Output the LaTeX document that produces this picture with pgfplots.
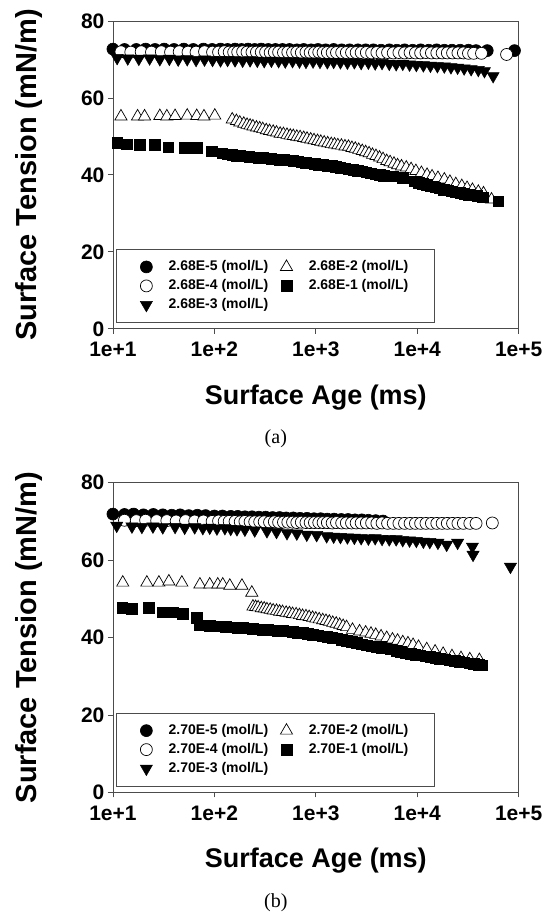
\documentclass[border=0pt]{standalone}
\usepackage{fontspec}
\setmainfont{Liberation Sans}
\newfontfamily\capfont{Liberation Serif}
\usepackage{pgfplots}
\pgfplotsset{compat=1.18}

\pgfplotsset{
  p5/.style={only marks, mark=*, mark size=6pt,
    mark options={draw=black, fill=black, line width=0.6pt}},
  p4/.style={only marks, mark=*, mark size=6pt,
    mark options={draw=black, fill=white, line width=0.7pt}},
  p3/.style={only marks, mark=triangle*, mark size=7pt,
    mark options={rotate=180, draw=black, fill=black, line width=0.5pt}},
  p2/.style={only marks, mark=triangle*, mark size=7pt,
    mark options={draw=black, fill=white, line width=0.7pt}},
  p1/.style={only marks, mark=square*, mark size=5.3pt,
    mark options={draw=black, fill=black, line width=0.5pt}},
}

\begin{document}
\begin{tikzpicture}
\path (0,0) rectangle (550pt,-915pt);

% ---------------- panel (a)
\begin{axis}[
  scale only axis, width=406pt, height=308pt,
  at={(113pt,-329pt)}, anchor=south west,
  xmode=log, xmin=10, xmax=100000, ymin=0, ymax=80,
  xtick={10,100,1000,10000,100000},
  xticklabels={1e+1,1e+2,1e+3,1e+4,1e+5},
  xminorticks=false,
  ytick={0,20,40,60,80},
  tick align=outside, tick pos=left,
  major tick length=5pt,
  axis line style={black!70, line width=0.8pt},
  tick style={black!70, line width=0.8pt},
  ticklabel style={font=\bfseries\fontsize{21}{21}\selectfont},
  xticklabel style={yshift=-5pt},
  yticklabel={\pgfmathprintnumber[assume math mode=true]{\tick}},
  clip=false,
  xlabel={Surface Age (ms)},
  ylabel={Surface Tension (mN/m)},
  xlabel style={font=\bfseries\fontsize{27}{27}\selectfont,
    at={(axis description cs:0.5,-0.2455)}, anchor=base},
  ylabel style={font=\bfseries\fontsize{29}{29}\selectfont,
    at={(axis description cs:-0.208,0.5)}, anchor=center},
  legend columns=2, legend cell align=left,
  legend image code/.code={\draw[#1] plot coordinates {(0pt,0pt)};},
  legend style={at={(0.0074,0.0195)}, anchor=south west,
    draw=black!70, line width=0.8pt,
    font=\bfseries\fontsize{14}{14}\selectfont,
    inner xsep=24pt, inner ysep=8pt,
    nodes={inner sep=2.25pt, text height=11pt, text depth=3.5pt},
    /tikz/every odd column/.append style={column sep=14pt},
    /tikz/every even column/.append style={column sep=10pt}},
]
\addplot[p5] coordinates {
  (10,72.7)(13,72.6)(17,72.6)(21,72.7)(26,72.6)(32,72.7)(40,72.6)(50,72.7)
  (62,72.6)(78,72.7)(95,72.6)(115,72.7)(135,72.6)(160,72.7)(185,72.6)(215,72.7)
  (250,72.6)(290,72.7)(340,72.6)(400,72.6)(470,72.6)(550,72.6)(650,72.5)(760,72.6)
  (900,72.5)(1050,72.6)(1250,72.5)(1500,72.6)(1800,72.5)(2150,72.5)(2600,72.5)
  (3100,72.5)(3700,72.5)(4400,72.4)(5300,72.5)(6300,72.4)(7500,72.5)(9000,72.4)
  (10800,72.5)(13000,72.4)(15500,72.5)(18500,72.4)(22000,72.4)(26500,72.4)
  (32000,72.4)(38000,72.3)(49000,72.3)(91000,72.3)
};
\addlegendentry{2.68E-5 (mol/L)}
\addplot[p2] coordinates {
  (12,55.2)(17.5,55.2)(20.5,55.2)(29,55.3)(34,55.2)(41,55.3)(54,55.4)(67,55.3)
  (79,55.2)(101,55.4)(150,54.4)(165,54.0)(178,53.6)(195,53.3)(210,53.0)(225,52.8)
  (240,52.6)(260,52.3)(280,52.1)(300,51.9)(325,51.6)(350,51.4)(380,51.2)(410,51.0)
  (445,50.7)(480,50.6)(520,50.4)(560,50.2)(600,50.1)(650,49.9)(700,49.8)(760,49.6)
  (820,49.4)(890,49.2)(960,49.0)(1040,48.8)(1120,48.6)(1210,48.4)(1310,48.2)
  (1420,48.0)(1530,47.9)(1650,47.7)(1790,47.6)(1940,47.4)(2100,47.3)(2270,47.0)
  (2450,46.8)(2650,46.5)(2870,46.2)(3100,45.9)(3350,45.6)(3620,45.2)(3920,44.9)
  (4250,44.5)(4600,44.1)(5000,43.6)(5400,43.3)(5900,42.9)(6400,42.5)(7000,42.2)
  (7800,41.9)(8700,41.5)(9700,41.0)(11000,40.5)(12500,40.0)(14000,39.6)
  (16000,39.2)(18500,38.8)(21000,38.2)(24000,37.6)(27500,37.1)(31000,36.6)
  (35000,36.1)(40000,35.6)(45000,35.2)(54000,33.6)
};
\addlegendentry{2.68E-2 (mol/L)}
\addplot[p4] coordinates {
  (12,72.0)(15,71.9)(19,72.0)(24,71.9)(30,72.0)(37,71.9)(45,72.0)(55,71.9)
  (66,71.9)(80,72.0)(96,71.9)(110,71.9)(125,72.0)(140,71.9)(155,71.9)(170,71.9)
  (190,72.0)(210,71.9)(235,71.9)(260,71.9)(290,71.9)(320,71.9)(355,71.8)(390,71.9)
  (430,71.9)(480,71.8)(530,71.9)(590,71.8)(650,71.9)(720,71.8)(800,71.9)(880,71.8)
  (970,71.8)(1070,71.9)(1180,71.8)(1300,71.8)(1450,71.8)(1600,71.8)(1800,71.8)
  (2000,71.8)(2250,71.8)(2500,71.8)(2800,71.8)(3150,71.8)(3550,71.7)(4000,71.8)
  (4500,71.7)(5100,71.8)(5800,71.7)(6600,71.8)(7500,71.7)(8500,71.8)(9600,71.7)
  (10800,71.7)(12200,71.8)(13800,71.7)(15600,71.7)(17600,71.7)(19800,71.7)
  (22300,71.7)(25200,71.7)(28500,71.7)(32000,71.6)(36000,71.6)(43000,71.6)
  (76000,71.3)
};
\addlegendentry{2.68E-4 (mol/L)}
\addplot[p1] coordinates {
  (11,48.4)(13.7,48.0)(18.5,47.9)(26,47.9)(35,47.2)(51,47.1)(67,47.1)(94,46.1)
  (120,45.6)(135,45.4)(150,45.2)(165,45.0)(180,44.9)(200,44.8)(220,44.7)(245,44.6)
  (270,44.5)(300,44.4)(330,44.3)(365,44.2)(400,44.1)(440,44.0)(490,43.9)(540,43.8)
  (600,43.6)(660,43.5)(730,43.3)(800,43.2)(880,43.0)(970,42.9)(1070,42.7)
  (1180,42.6)(1300,42.4)(1430,42.3)(1580,42.1)(1740,41.9)(1920,41.7)(2120,41.5)
  (2340,41.3)(2580,41.1)(2850,40.9)(3150,40.7)(3480,40.4)(3850,40.2)(4250,40.0)
  (4700,39.8)(5200,39.7)(5800,39.6)(7200,39.3)(9400,38.3)(10300,38.0)(11300,37.7)
  (12400,37.4)(13600,37.1)(15000,36.8)(16500,36.5)(18200,36.2)(20000,36.0)
  (22000,35.8)(24000,35.5)(26500,35.3)(29000,35.1)(32000,34.9)(36000,34.7)
  (39000,34.6)(44000,34.2)(63000,33.2)
};
\addlegendentry{2.68E-1 (mol/L)}
\addplot[p3] coordinates {
  (11,70.4)(14,70.3)(18,70.2)(23,70.3)(29,70.1)(36,70.2)(44,70.0)(54,70.1)
  (66,69.9)(80,70.0)(96,69.9)(115,69.8)(135,69.9)(160,69.8)(190,69.7)(225,69.8)
  (265,69.7)(310,69.6)(365,69.7)(430,69.6)(500,69.5)(590,69.6)(690,69.5)(800,69.4)
  (940,69.5)(1100,69.4)(1300,69.3)(1500,69.4)(1750,69.3)(2050,69.2)(2400,69.3)
  (2800,69.1)(3300,69.2)(3850,69.0)(4500,69.1)(5300,68.9)(6200,68.8)(7200,68.9)
  (8400,68.7)(9800,68.6)(11500,68.5)(13500,68.4)(15800,68.3)(18500,68.2)
  (21500,68.0)(25000,67.9)(29000,67.7)(34000,67.5)(40000,67.3)(46000,67.0)
  (56000,65.7)
};
\addlegendentry{2.68E-3 (mol/L)}
\end{axis}
\node[font=\capfont\fontsize{20}{20}\selectfont, anchor=base] at (276pt,-444pt) {(a)};

% ---------------- panel (b)
\begin{axis}[
  scale only axis, width=406pt, height=310pt,
  at={(113pt,-793pt)}, anchor=south west,
  xmode=log, xmin=10, xmax=100000, ymin=0, ymax=80,
  xtick={10,100,1000,10000,100000},
  xticklabels={1e+1,1e+2,1e+3,1e+4,1e+5},
  xminorticks=false,
  ytick={0,20,40,60,80},
  tick align=outside, tick pos=left,
  major tick length=5pt,
  axis line style={black!70, line width=0.8pt},
  tick style={black!70, line width=0.8pt},
  ticklabel style={font=\bfseries\fontsize{21}{21}\selectfont},
  xticklabel style={yshift=-5pt},
  yticklabel={\pgfmathprintnumber[assume math mode=true]{\tick}},
  clip=false,
  xlabel={Surface Age (ms)},
  ylabel={Surface Tension (mN/m)},
  xlabel style={font=\bfseries\fontsize{27}{27}\selectfont,
    at={(axis description cs:0.5,-0.2435)}, anchor=base},
  ylabel style={font=\bfseries\fontsize{29}{29}\selectfont,
    at={(axis description cs:-0.208,0.5)}, anchor=center},
  legend columns=2, legend cell align=left,
  legend image code/.code={\draw[#1] plot coordinates {(0pt,0pt)};},
  legend style={at={(0.0074,0.0194)}, anchor=south west,
    draw=black!70, line width=0.8pt,
    font=\bfseries\fontsize{14}{14}\selectfont,
    inner xsep=24pt, inner ysep=8pt,
    nodes={inner sep=2.25pt, text height=11pt, text depth=3.5pt},
    /tikz/every odd column/.append style={column sep=14pt},
    /tikz/every even column/.append style={column sep=10pt}},
]
\addplot[p5] coordinates {
  (10,71.9)(13,71.8)(16,71.9)(20,71.7)(25,71.8)(31,71.7)(38,71.6)(46,71.7)
  (56,71.5)(68,71.6)(82,71.5)(100,71.4)(120,71.4)(145,71.3)(170,71.3)(200,71.2)
  (235,71.2)(275,71.1)(320,71.1)(375,71.0)(440,71.0)(510,70.9)(600,70.9)(700,70.8)
  (820,70.8)(960,70.7)(1120,70.7)(1300,70.6)(1520,70.6)(1780,70.5)(2080,70.5)
  (2430,70.4)(2840,70.4)(3300,70.3)(3900,70.2)(4600,70.1)
};
\addlegendentry{2.70E-5 (mol/L)}
\addplot[p2] coordinates {
  (12.5,54.2)(21.6,54.2)(28.4,54.2)(35.6,54.5)(47.8,54.2)(72,53.7)(90,53.7)
  (108,53.7)(121,53.7)(142,53.4)(187,53.4)(234,51.6)
  (240,48.0)(255,47.9)(270,47.8)(290,47.6)(310,47.5)(330,47.3)(355,47.2)(380,47.0)
  (410,46.9)(440,46.7)(470,46.6)(510,46.4)(550,46.3)(590,46.1)(640,46.0)(690,45.8)
  (740,45.6)(800,45.5)(860,45.3)(930,45.1)(1000,44.9)(1080,44.7)(1170,44.5)
  (1260,44.3)(1360,44.1)(1470,43.8)(1590,43.6)(1720,43.3)(1860,43.0)(2010,42.7)
  (2300,42.0)(2700,41.6)(3100,41.3)(3500,41.0)(3900,40.7)(4400,40.3)(5000,39.9)
  (5700,39.5)(6400,39.2)(7200,38.8)(8100,38.5)(9100,38.1)(10300,37.6)(12400,37.0)
  (15000,36.4)(18000,35.8)(22000,35.2)(27000,34.7)(33000,34.4)(41000,34.2)
};
\addlegendentry{2.70E-2 (mol/L)}
\addplot[p4] coordinates {
  (13,70.3)(17,70.2)(21,70.3)(27,70.2)(34,70.2)(42,70.1)(52,70.2)(64,70.1)
  (78,70.1)(95,70.0)(110,70.1)(125,70.0)(140,70.0)(160,70.0)(180,69.9)(200,70.0)
  (225,69.9)(250,69.9)(280,69.9)(310,69.9)(350,69.8)(390,69.9)(430,69.8)(480,69.8)
  (530,69.8)(590,69.8)(650,69.7)(720,69.8)(800,69.7)(880,69.7)(970,69.7)
  (1070,69.7)(1180,69.7)(1300,69.7)(1450,69.6)(1600,69.7)(1800,69.6)(2000,69.6)
  (2250,69.6)(2500,69.6)(2800,69.6)(3150,69.6)(3550,69.6)(4000,69.5)(4500,69.6)
  (5100,69.5)(5800,69.5)(6600,69.5)(7500,69.5)(8500,69.5)(9600,69.5)(10800,69.5)
  (12200,69.5)(13800,69.5)(15600,69.5)(17600,69.5)(19800,69.5)(22300,69.5)
  (25200,69.5)(28500,69.5)(33000,69.5)(38000,69.5)(55000,69.6)
};
\addlegendentry{2.70E-4 (mol/L)}
\addplot[p1] coordinates {
  (12.3,47.7)(15.4,47.4)(22.6,47.7)(31,46.5)(39,46.5)(49,46.1)(67,45.2)
  (72,43.2)(90,43.0)(110,42.9)(130,42.8)(150,42.7)(170,42.6)(190,42.5)(215,42.4)
  (240,42.3)(270,42.2)(300,42.1)(340,42.0)(380,41.9)(420,41.8)(470,41.7)(520,41.6)
  (590,41.5)(660,41.3)(740,41.2)(830,41.0)(930,40.8)(1040,40.6)(1160,40.4)
  (1300,40.2)(1450,40.0)(1620,39.8)(1810,39.5)(2020,39.2)(2260,38.9)(2530,38.6)
  (2830,38.3)(3160,38.0)(3530,37.8)(3950,37.6)(4420,37.4)(4950,37.2)(5500,37.0)
  (6200,36.6)(6900,36.3)(7700,36.0)(8600,35.8)(9600,35.6)(10700,35.4)(12000,35.2)
  (13400,35.0)(15000,34.8)(16700,34.6)(18700,34.4)(20900,34.2)(23300,34.0)
  (26000,33.8)(29000,33.6)(32500,33.4)(36300,33.2)(40500,33.0)(43000,32.9)
};
\addlegendentry{2.70E-1 (mol/L)}
\addplot[p3] coordinates {
  (10.9,68.9)(15.4,68.7)(19.3,68.6)(24.8,68.7)(31,68.5)(41,68.6)(51,68.4)(64,68.5)
  (77,68.3)(90,68.4)(106,68.2)(127,68.3)(145,68.1)(167,68.0)(200,67.9)(250,67.7)
  (330,67.5)(410,67.3)(520,67.0)(650,66.9)(815,66.6)(1020,66.5)(1280,66.2)
  (1500,66.1)(1750,66.0)(2050,65.9)(2400,65.8)(2800,65.7)(3300,65.6)(3850,65.7)
  (4500,65.5)(5300,65.4)(6200,65.4)(7200,65.2)(8400,65.1)(9800,65.0)(11500,64.8)
  (13300,64.7)(16000,64.5)(19500,64.0)(25000,64.5)(35000,63.5)(35500,61.4)(83000,58.3)
};
\addlegendentry{2.70E-3 (mol/L)}
\end{axis}
\node[font=\capfont\fontsize{20}{20}\selectfont, anchor=base] at (276pt,-908pt) {(b)};
\end{tikzpicture}
\end{document}
